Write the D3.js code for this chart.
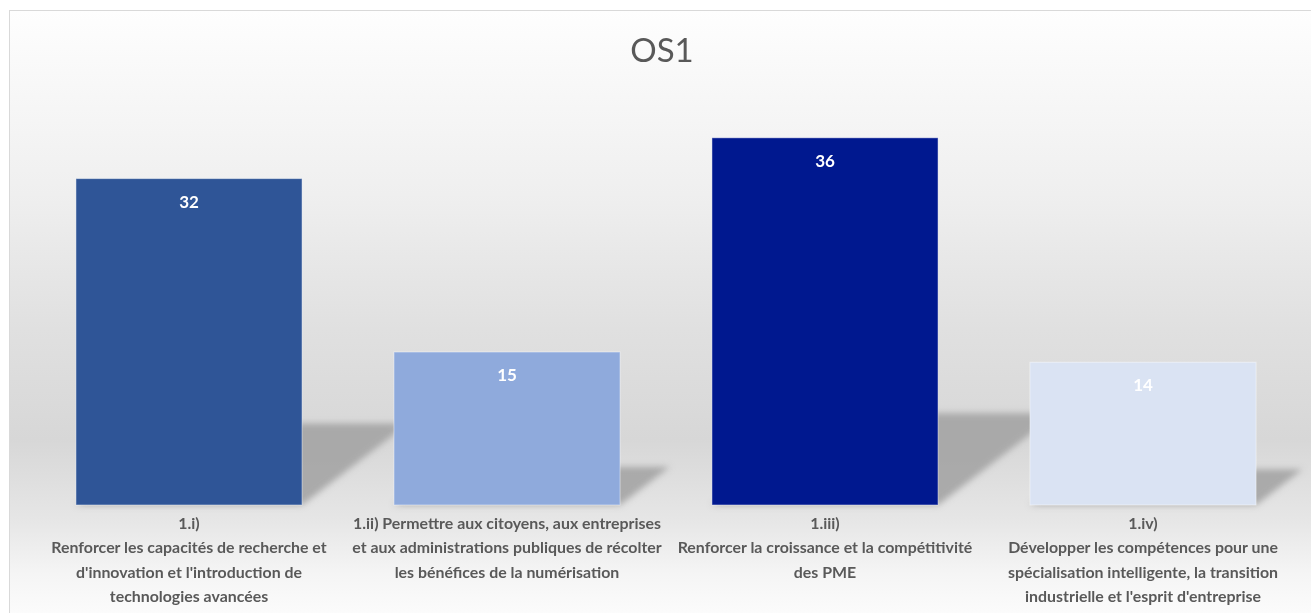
<!DOCTYPE html>
<html>
<head>
<meta charset="utf-8">
<script src="https://cdn.jsdelivr.net/npm/d3@7"></script>
<style>
  html, body { margin: 0; padding: 0; background: #ffffff; }
  svg { display: block; }
</style>
</head>
<body>
<svg id="chart" width="1311" height="613"></svg>
<script>
// Chart data
const chartTitle = "OS1";
const categories = ["1.i)", "1.ii)", "1.iii)", "1.iv)"];
const categoryLines = [
  ["1.i)", "Renforcer les capacités de recherche et", "d'innovation et l'introduction de", "technologies avancées"],
  ["1.ii) Permettre aux citoyens, aux entreprises", "et aux administrations publiques de récolter", "les bénéfices de la numérisation"],
  ["1.iii)", "Renforcer la croissance et la compétitivité", "des PME"],
  ["1.iv)", "Développer les compétences pour une", "spécialisation intelligente, la transition", "industrielle et l'esprit d'entreprise"]
];
const values = [32, 15, 36, 14];
const barColors = ["#2F5597", "#8FAADC", "#00188F", "#DAE3F3"];

const W = 1311, H = 613;
const svg = d3.select("#chart");
const defs = svg.append("defs");

// Background gradient of the chart area
const bg = defs.append("linearGradient")
  .attr("id", "bgGrad").attr("x1", 0).attr("y1", 0).attr("x2", 0).attr("y2", 1);
[[0, "#fefefe"], [0.3, "#efefef"], [0.52, "#e0e0e0"], [0.7, "#d7d7d7"],
 [0.83, "#e6e6e6"], [0.92, "#f5f5f5"], [1, "#fdfdfd"]]
  .forEach(([o, c]) => bg.append("stop").attr("offset", o).attr("stop-color", c));

defs.append("filter").attr("id", "shadowBlur")
  .attr("x", "-20%").attr("y", "-40%").attr("width", "140%").attr("height", "180%")
  .append("feGaussianBlur").attr("stdDeviation", 3);

svg.append("rect")
  .attr("x", 9.5).attr("y", 10.5)
  .attr("width", W).attr("height", H)
  .attr("fill", "url(#bgGrad)")
  .attr("stroke", "#d9d9d9").attr("stroke-width", 1);

// Scales
const x = d3.scaleBand()
  .domain(categories)
  .range([30, 1302])
  .paddingInner(0.289)
  .paddingOuter(0.1445);

const y = d3.scaleLinear().domain([0, 40]).range([505, 97]);

const data = categories.map((c, i) => ({ cat: c, value: values[i], color: barColors[i], lines: categoryLines[i] }));

// Perspective shadows cast to the right of each bar
const shadowScale = 0.25, shadowSkew = 1.3;
svg.append("g").attr("filter", "url(#shadowBlur)")
  .selectAll("path")
  .data(data)
  .join("path")
  .attr("d", d => {
    const x0 = x(d.cat), x1 = x0 + x.bandwidth();
    const base = y(0);
    const s = (y(0) - y(d.value)) * shadowScale;
    const off = s * shadowSkew;
    return `M${x0},${base}L${x1},${base}L${x1 + off},${base - s}L${x0 + off},${base - s}Z`;
  })
  .attr("fill", "#a6a6a6")
  .attr("opacity", 0.95);

// Bars
svg.append("g")
  .selectAll("rect")
  .data(data)
  .join("rect")
  .attr("x", d => x(d.cat))
  .attr("y", d => y(d.value))
  .attr("width", x.bandwidth())
  .attr("height", d => y(0) - y(d.value))
  .attr("fill", d => d.color)
  .attr("stroke", "rgba(255,255,255,0.45)")
  .attr("stroke-width", 1);

// Value labels inside the top of each bar
svg.append("g")
  .selectAll("text")
  .data(data)
  .join("text")
  .attr("x", d => x(d.cat) + x.bandwidth() / 2)
  .attr("y", d => y(d.value) + 29)
  .attr("text-anchor", "middle")
  .attr("font-family", "Lato, 'Open Sans', sans-serif")
  .attr("font-weight", 700)
  .attr("font-size", 17)
  .attr("fill", "#ffffff")
  .text(d => d.value);

// Title
svg.append("text")
  .attr("x", 662).attr("y", 62)
  .attr("text-anchor", "middle")
  .attr("font-family", "Lato, 'Open Sans', sans-serif")
  .attr("font-size", 33)
  .attr("fill", "#595959")
  .text(chartTitle);

// Category labels (multi-line)
const labels = svg.append("g")
  .selectAll("text")
  .data(data)
  .join("text")
  .attr("text-anchor", "middle")
  .attr("font-family", "Lato, 'Open Sans', sans-serif")
  .attr("font-weight", 700)
  .attr("font-size", 15.9)
  .attr("fill", "#595959");

labels.selectAll("tspan")
  .data(d => d.lines.map(l => ({ l, cx: x(d.cat) + x.bandwidth() / 2 })))
  .join("tspan")
  .attr("x", t => t.cx)
  .attr("y", (t, i) => 529 + i * 24.4)
  .text(t => t.l);
</script>
</body>
</html>
